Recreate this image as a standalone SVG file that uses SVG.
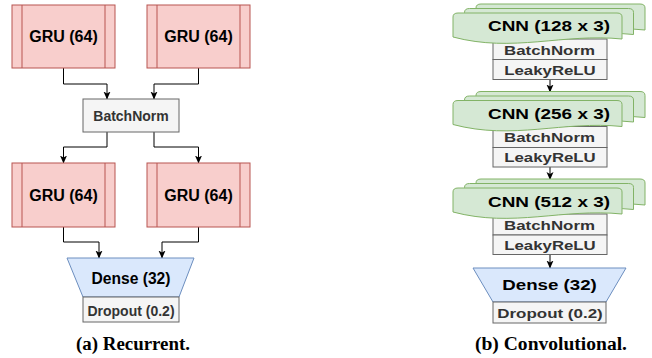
<svg xmlns="http://www.w3.org/2000/svg" xmlns:xlink="http://www.w3.org/1999/xlink" width="652" height="358" viewBox="0 0 652 358">
<style>
.gru{fill:#f8cecc;stroke:#b85450;stroke-width:1}
.gray{fill:#f5f5f5;stroke:#666666;stroke-width:1}
.blue{fill:#dae8fc;stroke:#6c8ebf;stroke-width:1}
.card{fill:#d5e8d4;stroke:#82b366;stroke-width:1}
.t{font-family:"Liberation Sans",Arial,sans-serif;font-weight:bold;text-anchor:middle}
.dk{fill:#000000}
.gt{fill:#333333}
.cap{font-family:"Liberation Serif","Times New Roman",serif;font-weight:bold;font-size:18px;text-anchor:middle;fill:#000}
.conn{fill:none;stroke:#000;stroke-width:1}
</style>
<defs>
<marker id="arr" viewBox="0 0 8 8" refX="7.5" refY="4" markerWidth="8" markerHeight="8" markerUnits="userSpaceOnUse" orient="auto">
<path d="M0,0.5 L8,4 L0,7.5 L2,4 Z" fill="#000"/>
</marker>
<path id="cardp" d="M0,4 Q0,0 5,0 L164,0 Q169,0 169,4 L169,26 C110,20 60,40 0,24 Z"/>
</defs>
<rect width="652" height="358" fill="#ffffff"/>

<g id="connectors">
<path class="conn" d="M63.5,68 V84 H107 V99" marker-end="url(#arr)"/>
<path class="conn" d="M198.5,68 V84 H154 V99" marker-end="url(#arr)"/>
<path class="conn" d="M107,132 V147 H63.5 V163" marker-end="url(#arr)"/>
<path class="conn" d="M154,132 V147 H198.5 V163" marker-end="url(#arr)"/>
<path class="conn" d="M63.5,227 V242 H99 V258" marker-end="url(#arr)"/>
<path class="conn" d="M198.5,227 V242 H162 V258" marker-end="url(#arr)"/>
<path class="conn" d="M550,79.5 V92" marker-end="url(#arr)"/>
<path class="conn" d="M550,167 V179.5" marker-end="url(#arr)"/>
<path class="conn" d="M550,254.5 V268" marker-end="url(#arr)"/>
</g>

<g id="gru1">
<rect class="gru" x="12" y="5" width="103" height="63"/>
<path class="gru" d="M22,5 V68 M105,5 V68"/>
<text class="t dk" x="63.5" y="42" font-size="16">GRU (64)</text>
</g>
<g id="gru2">
<rect class="gru" x="147" y="5" width="103" height="63"/>
<path class="gru" d="M157,5 V68 M240,5 V68"/>
<text class="t dk" x="198.5" y="42" font-size="16">GRU (64)</text>
</g>
<g id="batchnorm-a">
<rect class="gray" x="83" y="99" width="96" height="33"/>
<text class="t gt" x="131" y="120.5" font-size="14">BatchNorm</text>
</g>
<g id="gru3">
<rect class="gru" x="12" y="163" width="103" height="64"/>
<path class="gru" d="M22,163 V227 M105,163 V227"/>
<text class="t dk" x="63.5" y="200.5" font-size="16">GRU (64)</text>
</g>
<g id="gru4">
<rect class="gru" x="147" y="163" width="103" height="64"/>
<path class="gru" d="M157,163 V227 M240,163 V227"/>
<text class="t dk" x="198.5" y="200.5" font-size="16">GRU (64)</text>
</g>
<g id="dense-a">
<path class="blue" d="M67,258 H194 L179,297 H83 Z"/>
<text class="t dk" x="131" y="283.5" font-size="15.6">Dense (32)</text>
</g>
<g id="dropout-a">
<rect class="gray" x="83" y="297" width="96" height="25"/>
<text class="t gt" x="131" y="316" font-size="14">Dropout (0.2)</text>
</g>
<text id="caption-a" class="cap" x="133" y="350" textLength="114" lengthAdjust="spacingAndGlyphs">(a) Recurrent.</text>

<g id="cnn1">
<rect class="gray" x="493" y="39" width="114" height="20.5"/>
<rect class="gray" x="493" y="59.5" width="114" height="20"/>
<use href="#cardp" xlink:href="#cardp" class="card" x="476" y="4"/>
<use href="#cardp" xlink:href="#cardp" class="card" x="464.5" y="8.5"/>
<use href="#cardp" xlink:href="#cardp" class="card" x="453" y="13"/>
<text class="t dk" x="549" y="31" font-size="15" textLength="122" lengthAdjust="spacingAndGlyphs">CNN (128 x 3)</text>
<text class="t gt" x="549.5" y="55" font-size="12.5" textLength="91" lengthAdjust="spacingAndGlyphs">BatchNorm</text>
<text class="t gt" x="550" y="74.5" font-size="12.5" textLength="91.5" lengthAdjust="spacingAndGlyphs">LeakyReLU</text>
</g>
<g id="cnn2">
<rect class="gray" x="493" y="126.5" width="114" height="21"/>
<rect class="gray" x="493" y="147.5" width="114" height="19.5"/>
<use href="#cardp" xlink:href="#cardp" class="card" x="476" y="91.5"/>
<use href="#cardp" xlink:href="#cardp" class="card" x="464.5" y="96"/>
<use href="#cardp" xlink:href="#cardp" class="card" x="453" y="100.5"/>
<text class="t dk" x="549" y="118.8" font-size="15" textLength="122" lengthAdjust="spacingAndGlyphs">CNN (256 x 3)</text>
<text class="t gt" x="549.5" y="142" font-size="12.5" textLength="91" lengthAdjust="spacingAndGlyphs">BatchNorm</text>
<text class="t gt" x="550" y="161.8" font-size="12.5" textLength="91.5" lengthAdjust="spacingAndGlyphs">LeakyReLU</text>
</g>
<g id="cnn3">
<rect class="gray" x="493" y="214" width="114" height="21"/>
<rect class="gray" x="493" y="235" width="114" height="19.5"/>
<use href="#cardp" xlink:href="#cardp" class="card" x="476" y="179"/>
<use href="#cardp" xlink:href="#cardp" class="card" x="464.5" y="183.5"/>
<use href="#cardp" xlink:href="#cardp" class="card" x="453" y="188"/>
<text class="t dk" x="549" y="206.5" font-size="15" textLength="122" lengthAdjust="spacingAndGlyphs">CNN (512 x 3)</text>
<text class="t gt" x="549.5" y="230" font-size="12.5" textLength="91" lengthAdjust="spacingAndGlyphs">BatchNorm</text>
<text class="t gt" x="550" y="249.8" font-size="12.5" textLength="91.5" lengthAdjust="spacingAndGlyphs">LeakyReLU</text>
</g>
<g id="dense-b">
<path class="blue" d="M473,268 H626 L606,302 H493 Z"/>
<text class="t dk" x="549.5" y="290" font-size="14" textLength="94.5" lengthAdjust="spacingAndGlyphs">Dense (32)</text>
</g>
<g id="dropout-b">
<rect class="gray" x="493" y="302" width="113" height="21"/>
<text class="t gt" x="550" y="318" font-size="12.5" textLength="105.5" lengthAdjust="spacingAndGlyphs">Dropout (0.2)</text>
</g>
<text id="caption-b" class="cap" x="551" y="350" textLength="152" lengthAdjust="spacingAndGlyphs">(b) Convolutional.</text>
</svg>
